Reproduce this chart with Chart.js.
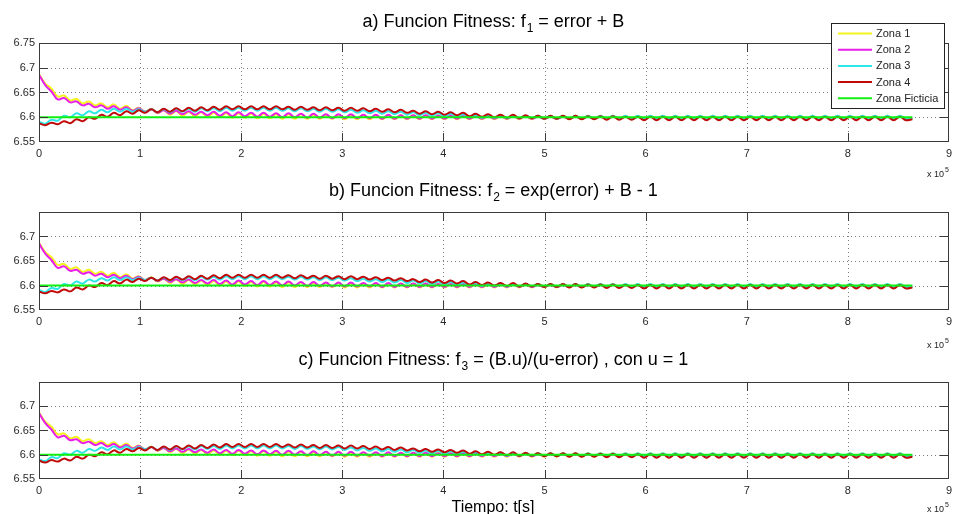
<!DOCTYPE html>
<html>
<head>
<meta charset="utf-8">
<title>Funcion Fitness - Zonas</title>
<script src="https://cdn.jsdelivr.net/npm/chart.js@4.4.1/dist/chart.umd.min.js"></script>
<style>
  html, body { margin: 0; padding: 0; background: #fff; }
  body { width: 957px; height: 514px; position: relative; overflow: hidden; }
  .panel { position: absolute; left: 0; width: 957px; }
</style>
</head>
<body>
<div class="panel" style="top:0;height:180px"><canvas id="panelA" width="957" height="180"></canvas></div>
<div class="panel" style="top:180px;height:172px"><canvas id="panelB" width="957" height="172"></canvas></div>
<div class="panel" style="top:352px;height:162px"><canvas id="panelC" width="957" height="162"></canvas></div>

<script>
// tiempo en unidades de 10^5 s (maximos y minimos de cada oscilacion)
const tiempo = [
  0, 0.062, 0.123, 0.185, 0.247, 0.309, 0.370, 0.432, 0.494, 0.555,
  0.617, 0.679, 0.740, 0.802, 0.864, 0.926, 0.987, 1.049, 1.111, 1.172,
  1.234, 1.296, 1.357, 1.419, 1.481, 1.543, 1.604, 1.666, 1.728, 1.789,
  1.851, 1.913, 1.974, 2.036, 2.098, 2.160, 2.221, 2.283, 2.345, 2.406,
  2.468, 2.530, 2.591, 2.653, 2.715, 2.777, 2.838, 2.900, 2.962, 3.023,
  3.085, 3.147, 3.208, 3.270, 3.332, 3.394, 3.455, 3.517, 3.579, 3.640,
  3.702, 3.764, 3.825, 3.887, 3.949, 4.011, 4.072, 4.134, 4.196, 4.257,
  4.319, 4.381, 4.442, 4.504, 4.566, 4.628, 4.689, 4.751, 4.813, 4.874,
  4.936, 4.998, 5.059, 5.121, 5.183, 5.245, 5.306, 5.368, 5.430, 5.491,
  5.553, 5.615, 5.676, 5.738, 5.800, 5.862, 5.923, 5.985, 6.047, 6.108,
  6.170, 6.232, 6.293, 6.355, 6.417, 6.479, 6.540, 6.602, 6.664, 6.725,
  6.787, 6.849, 6.910, 6.972, 7.034, 7.096, 7.157, 7.219, 7.281, 7.342,
  7.404, 7.466, 7.527, 7.589, 7.651, 7.713, 7.774, 7.836, 7.898, 7.959,
  8.021, 8.083, 8.144, 8.206, 8.268, 8.330, 8.391, 8.453, 8.515, 8.576,
  8.638
];

const zona1 = [
  6.687, 6.668, 6.658, 6.642, 6.644, 6.634, 6.637, 6.628, 6.632, 6.624,
  6.628, 6.620, 6.626, 6.617, 6.623, 6.614, 6.619, 6.611, 6.617, 6.608,
  6.614, 6.605, 6.612, 6.603, 6.611, 6.602, 6.610, 6.601, 6.609, 6.600,
  6.608, 6.599, 6.608, 6.599, 6.607, 6.598, 6.607, 6.598, 6.606, 6.597,
  6.606, 6.597, 6.606, 6.597, 6.605, 6.597, 6.605, 6.597, 6.605, 6.596,
  6.604, 6.596, 6.604, 6.596, 6.604, 6.596, 6.604, 6.596, 6.604, 6.596,
  6.604, 6.596, 6.604, 6.596, 6.604, 6.596, 6.604, 6.596, 6.603, 6.596,
  6.603, 6.596, 6.603, 6.596, 6.603, 6.596, 6.603, 6.596, 6.603, 6.596,
  6.603, 6.596, 6.603, 6.596, 6.603, 6.596, 6.603, 6.596, 6.603, 6.596,
  6.603, 6.596, 6.603, 6.596, 6.603, 6.596, 6.603, 6.596, 6.603, 6.596,
  6.603, 6.596, 6.603, 6.596, 6.603, 6.596, 6.603, 6.596, 6.603, 6.596,
  6.603, 6.596, 6.603, 6.596, 6.603, 6.596, 6.603, 6.596, 6.603, 6.596,
  6.603, 6.596, 6.603, 6.596, 6.603, 6.596, 6.603, 6.596, 6.603, 6.596,
  6.603, 6.596, 6.603, 6.596, 6.603, 6.596, 6.603, 6.596, 6.603, 6.596,
  6.597
];

const zona2 = [
  6.686, 6.665, 6.652, 6.636, 6.639, 6.630, 6.632, 6.624, 6.627, 6.620,
  6.624, 6.617, 6.622, 6.615, 6.620, 6.613, 6.618, 6.611, 6.616, 6.609,
  6.614, 6.607, 6.613, 6.606, 6.612, 6.605, 6.611, 6.604, 6.611, 6.603,
  6.610, 6.602, 6.610, 6.602, 6.609, 6.601, 6.609, 6.601, 6.608, 6.600,
  6.608, 6.600, 6.607, 6.599, 6.607, 6.599, 6.606, 6.598, 6.606, 6.598,
  6.606, 6.598, 6.605, 6.598, 6.605, 6.597, 6.605, 6.597, 6.604, 6.597,
  6.604, 6.597, 6.604, 6.597, 6.603, 6.597, 6.603, 6.597, 6.603, 6.597,
  6.602, 6.597, 6.602, 6.597, 6.602, 6.597, 6.602, 6.597, 6.602, 6.597,
  6.601, 6.597, 6.601, 6.597, 6.601, 6.597, 6.601, 6.597, 6.601, 6.597,
  6.601, 6.597, 6.601, 6.597, 6.601, 6.597, 6.601, 6.597, 6.601, 6.597,
  6.601, 6.597, 6.601, 6.597, 6.601, 6.597, 6.601, 6.597, 6.601, 6.597,
  6.601, 6.597, 6.601, 6.597, 6.601, 6.597, 6.601, 6.597, 6.601, 6.597,
  6.601, 6.597, 6.601, 6.597, 6.601, 6.597, 6.601, 6.597, 6.601, 6.597,
  6.601, 6.597, 6.601, 6.597, 6.601, 6.597, 6.601, 6.597, 6.601, 6.597,
  6.598
];

const zona3 = [
  6.591, 6.587, 6.595, 6.593, 6.603, 6.600, 6.608, 6.604, 6.612, 6.608,
  6.615, 6.610, 6.617, 6.611, 6.617, 6.611, 6.616, 6.611, 6.616, 6.610,
  6.616, 6.610, 6.617, 6.611, 6.617, 6.611, 6.618, 6.612, 6.618, 6.612,
  6.619, 6.613, 6.619, 6.613, 6.619, 6.613, 6.619, 6.613, 6.619, 6.613,
  6.618, 6.612, 6.618, 6.612, 6.617, 6.611, 6.617, 6.611, 6.616, 6.610,
  6.615, 6.609, 6.614, 6.608, 6.613, 6.607, 6.612, 6.606, 6.611, 6.605,
  6.610, 6.604, 6.609, 6.603, 6.608, 6.602, 6.607, 6.601, 6.606, 6.600,
  6.605, 6.599, 6.604, 6.599, 6.604, 6.598, 6.603, 6.598, 6.603, 6.598,
  6.603, 6.597, 6.603, 6.597, 6.603, 6.597, 6.603, 6.597, 6.603, 6.597,
  6.603, 6.597, 6.603, 6.597, 6.603, 6.597, 6.603, 6.597, 6.603, 6.597,
  6.603, 6.597, 6.603, 6.597, 6.603, 6.597, 6.603, 6.597, 6.603, 6.597,
  6.603, 6.597, 6.603, 6.597, 6.603, 6.597, 6.603, 6.597, 6.603, 6.597,
  6.603, 6.597, 6.603, 6.597, 6.603, 6.597, 6.603, 6.597, 6.603, 6.597,
  6.603, 6.597, 6.603, 6.597, 6.603, 6.597, 6.603, 6.597, 6.603, 6.597,
  6.598
];

const zona4 = [
  6.588, 6.584, 6.589, 6.586, 6.592, 6.588, 6.596, 6.592, 6.600, 6.597,
  6.605, 6.601, 6.609, 6.604, 6.612, 6.607, 6.614, 6.609, 6.616, 6.610,
  6.617, 6.611, 6.618, 6.612, 6.619, 6.613, 6.620, 6.614, 6.621, 6.615,
  6.622, 6.616, 6.622, 6.616, 6.622, 6.616, 6.622, 6.616, 6.622, 6.616,
  6.621, 6.615, 6.621, 6.615, 6.620, 6.614, 6.620, 6.614, 6.619, 6.613,
  6.619, 6.613, 6.618, 6.612, 6.617, 6.611, 6.616, 6.610, 6.615, 6.609,
  6.613, 6.607, 6.612, 6.606, 6.611, 6.605, 6.610, 6.604, 6.609, 6.602,
  6.607, 6.601, 6.606, 6.600, 6.605, 6.599, 6.605, 6.598, 6.604, 6.598,
  6.603, 6.597, 6.603, 6.597, 6.603, 6.596, 6.603, 6.596, 6.602, 6.596,
  6.602, 6.595, 6.602, 6.595, 6.601, 6.595, 6.601, 6.594, 6.601, 6.594,
  6.601, 6.594, 6.601, 6.594, 6.601, 6.594, 6.601, 6.594, 6.601, 6.594,
  6.601, 6.594, 6.601, 6.594, 6.601, 6.594, 6.601, 6.594, 6.601, 6.594,
  6.601, 6.594, 6.601, 6.594, 6.601, 6.594, 6.601, 6.594, 6.601, 6.594,
  6.601, 6.594, 6.601, 6.594, 6.601, 6.594, 6.601, 6.594, 6.601, 6.594,
  6.596
];

// la zona ficticia es una recta
const tiempoFicticia = [0, 8.638];
const zonaFicticia = [6.6, 6.6];

const ticksX = [0, 1, 2, 3, 4, 5, 6, 7, 8, 9];
const ticksYa = [6.55, 6.6, 6.65, 6.7, 6.75];
const ticksYbc = [6.55, 6.6, 6.65, 6.7];
const nombres = ["Zona 1", "Zona 2", "Zona 3", "Zona 4", "Zona Ficticia"];

const FUENTE = '"Liberation Sans", Arial, Helvetica, sans-serif';

function puntos(xs, ys) {
  return xs.map((x, i) => ({ x: x, y: ys[i] }));
}

function dibujarTitulo(ctx, partes, cx, base) {
  const grande = "18px " + FUENTE;
  const chica = "12px " + FUENTE;
  ctx.font = grande;
  const w1 = ctx.measureText(partes[0]).width;
  const w3 = ctx.measureText(partes[2]).width;
  ctx.font = chica;
  const w2 = ctx.measureText(partes[1]).width;
  let x = cx - (w1 + w2 + w3) / 2;
  ctx.fillStyle = "#000";
  ctx.textAlign = "left";
  ctx.textBaseline = "alphabetic";
  ctx.font = grande; ctx.fillText(partes[0], x, base); x += w1 + 1;
  ctx.font = chica;  ctx.fillText(partes[1], x, base + 5); x += w2;
  ctx.font = grande; ctx.fillText(partes[2], x, base);
}

// marco, rejilla punteada y marcas hacia adentro (estilo matlab)
const marcoMatlab = {
  id: "marcoMatlab",
  beforeDatasetsDraw(chart, args, opts) {
    const { ctx, chartArea: a, scales: { x, y } } = chart;
    ctx.save();
    ctx.strokeStyle = "#7d7d7d";
    ctx.lineWidth = 1;
    ctx.setLineDash([1, 3]);
    ctx.beginPath();
    ticksX.filter(v => v > x.min && v < x.max).forEach(v => {
      const px = Math.round(x.getPixelForValue(v)) + 0.5;
      ctx.moveTo(px, a.top); ctx.lineTo(px, a.bottom);
    });
    opts.ticksY.filter(v => v > y.min && v < y.max).forEach(v => {
      const py = Math.round(y.getPixelForValue(v)) + 0.5;
      ctx.moveTo(a.left, py); ctx.lineTo(a.right, py);
    });
    ctx.stroke();
    ctx.restore();
  },
  afterDatasetsDraw(chart, args, opts) {
    const { ctx, chartArea: a, scales: { x, y } } = chart;
    const L = 9;
    ctx.save();
    ctx.strokeStyle = "#3a3a3a";
    ctx.lineWidth = 1;
    ctx.beginPath();
    ticksX.filter(v => v > x.min && v < x.max).forEach(v => {
      const px = Math.round(x.getPixelForValue(v)) + 0.5;
      ctx.moveTo(px, a.top); ctx.lineTo(px, a.top + L);
      ctx.moveTo(px, a.bottom); ctx.lineTo(px, a.bottom - L);
    });
    opts.ticksY.filter(v => v > y.min && v < y.max).forEach(v => {
      const py = Math.round(y.getPixelForValue(v)) + 0.5;
      ctx.moveTo(a.left, py); ctx.lineTo(a.left + L, py);
      ctx.moveTo(a.right, py); ctx.lineTo(a.right - L, py);
    });
    ctx.stroke();
    ctx.strokeRect(Math.round(a.left) + 0.5, Math.round(a.top) + 0.5,
                   Math.round(a.right - a.left) - 1, Math.round(a.bottom - a.top) - 1);
    ctx.restore();
  },
  afterDraw(chart, args, opts) {
    const { ctx, chartArea: a } = chart;
    ctx.save();
    dibujarTitulo(ctx, opts.titulo, (a.left + a.right) / 2 - 1, opts.baseTitulo);

    // factor de escala del eje x
    ctx.fillStyle = "#222";
    ctx.textAlign = "left";
    ctx.textBaseline = "alphabetic";
    ctx.font = "9px " + FUENTE;
    ctx.fillText("x 10", 927, opts.baseEscala);
    ctx.font = "7px " + FUENTE;
    ctx.fillText("5", 945, opts.baseEscala - 5);

    if (opts.etiquetaX) {
      ctx.fillStyle = "#000";
      ctx.textAlign = "center";
      ctx.font = "16px " + FUENTE;
      ctx.fillText(opts.etiquetaX, (a.left + a.right) / 2 - 1, opts.baseEtiquetaX);
    }

    if (opts.leyenda) {
      const bx = 831, by = 23, bw = 113, bh = 85;
      ctx.fillStyle = "#fff";
      ctx.fillRect(bx, by, bw, bh);
      ctx.strokeStyle = "#222";
      ctx.lineWidth = 1;
      ctx.strokeRect(bx + 0.5, by + 0.5, bw, bh);
      ctx.font = "11px " + FUENTE;
      ctx.textAlign = "left";
      ctx.textBaseline = "middle";
      chart.data.datasets.forEach((ds, i) => {
        const yy = by + 10.5 + i * 16.2;
        ctx.strokeStyle = ds.borderColor;
        ctx.lineWidth = 2;
        ctx.beginPath();
        ctx.moveTo(bx + 7, yy); ctx.lineTo(bx + 41, yy);
        ctx.stroke();
        ctx.fillStyle = "#222";
        ctx.fillText(ds.label, bx + 45, yy + 0.5);
      });
    }
    ctx.restore();
  }
};

function crearPanel(id, cfg) {
  const series = [zona1, zona2, zona3, zona4];
  const colores = ["#f4f41c", "#e81ee8", "#2ee6e6", "#c00a0a"];
  const datasets = series.map((s, i) => ({
    label: nombres[i],
    data: puntos(tiempo, s),
    borderColor: colores[i],
    borderWidth: 2,
    pointRadius: 0,
    tension: 0.4,
    order: 5 - i
  }));
  datasets.push({
    label: nombres[4],
    data: puntos(tiempoFicticia, zonaFicticia),
    borderColor: "#10f010",
    borderWidth: 2,
    pointRadius: 0,
    order: 0
  });

  return new Chart(document.getElementById(id).getContext("2d"), {
    type: "line",
    data: { datasets: datasets },
    options: {
      responsive: false,
      animation: false,
      layout: { padding: { top: cfg.arriba, right: 6, bottom: 0, left: 0 } },
      plugins: {
        legend: { display: false },
        tooltip: { enabled: false },
        marcoMatlab: cfg
      },
      scales: {
        x: {
          type: "linear",
          min: 0, max: 9,
          afterBuildTicks: s => { s.ticks = ticksX.map(v => ({ value: v })); },
          afterFit: s => { s.height = cfg.altoX; },
          grid: { display: false, drawTicks: false },
          border: { display: false },
          ticks: { padding: 5, color: "#2a2a2a", font: { family: FUENTE, size: 11 }, maxRotation: 0 }
        },
        y: {
          min: 6.55, max: 6.75,
          afterBuildTicks: s => { s.ticks = cfg.ticksY.map(v => ({ value: v })); },
          afterFit: s => { s.width = 39; },
          grid: { display: false, drawTicks: false },
          border: { display: false },
          ticks: {
            padding: 4, color: "#2a2a2a", font: { family: FUENTE, size: 11 },
            callback: v => String(Number(v.toFixed(2)))
          }
        }
      }
    },
    plugins: [marcoMatlab]
  });
}

document.addEventListener("DOMContentLoaded", function () {
  crearPanel("panelA", {
    arriba: 43, altoX: 38, ticksY: ticksYa,
    titulo: ["a) Funcion Fitness: f", "1", " = error + B"],
    baseTitulo: 27, baseEscala: 177, leyenda: true
  });
  crearPanel("panelB", {
    arriba: 32, altoX: 42, ticksY: ticksYbc,
    titulo: ["b) Funcion Fitness: f", "2", " = exp(error) + B - 1"],
    baseTitulo: 16, baseEscala: 168, leyenda: false
  });
  crearPanel("panelC", {
    arriba: 30, altoX: 35, ticksY: ticksYbc,
    titulo: ["c) Funcion Fitness: f", "3", " = (B.u)/(u-error) , con u = 1"],
    baseTitulo: 13, baseEscala: 160, leyenda: false,
    etiquetaX: "Tiempo: t[s]", baseEtiquetaX: 160
  });
});
</script>
</body>
</html>
